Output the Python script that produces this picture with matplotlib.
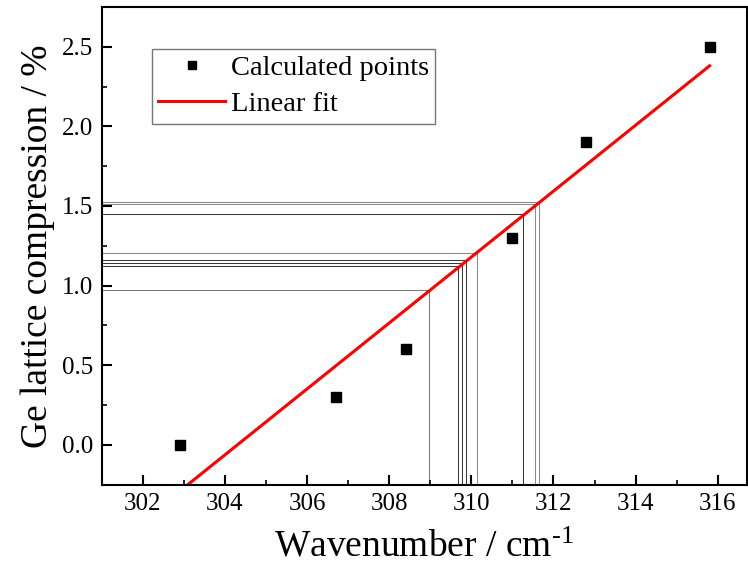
import numpy as np
import matplotlib
matplotlib.use("Agg")
import matplotlib.pyplot as plt

plt.rcParams['font.family'] = 'Liberation Serif'
plt.rcParams['mathtext.fontset'] = 'custom'
plt.rcParams['mathtext.rm'] = 'Liberation Serif'
plt.rcParams['mathtext.default'] = 'regular'

# calculated points
wavenumber = [302.9, 306.7, 308.4, 311.0, 312.8, 315.8]
compression = [0.0, 0.3, 0.6, 1.3, 1.9, 2.5]

# linear fit end points
fit_x = [302.9, 315.8]
fit_y = [-0.29, 2.38]

# guide lines read back from the fit
guide_x = [308.98, 309.68, 309.78, 309.88, 310.13, 311.26, 311.56, 311.65]
guide_y = [0.975, 1.123, 1.140, 1.159, 1.207, 1.448, 1.513, 1.528]
guide_c = ['#7a7a7a', '#3a3a3a', '#3a3a3a', '#3a3a3a', '#8a8a8a', '#3a3a3a', '#8a8a8a', '#8a8a8a']

xmin, xmax = 301.0, 316.7
ymin, ymax = -0.25, 2.75

fig = plt.figure(figsize=(7.48, 5.75), dpi=100)
ax = fig.add_axes([0.136, 0.157, 0.862, 0.831])

for gx, gy, gc in zip(guide_x, guide_y, guide_c):
    ax.plot([xmin, gx, gx], [gy, gy, ymin], color=gc, lw=0.75, zorder=1)

ax.plot(wavenumber, compression, 's', color='k', ms=7.5, label='Calculated points', zorder=3)
ax.plot(fit_x, fit_y, '-', color='red', lw=2.2, label='Linear fit', zorder=2)

ax.set_xlim(xmin, xmax)
ax.set_ylim(ymin, ymax)
ax.set_xticks(np.arange(302, 317, 2))
ax.set_xticks(np.arange(301, 317, 1), minor=True)
ax.set_yticks(np.arange(0, 2.6, 0.5))
ax.set_yticks(np.arange(-0.25, 2.75, 0.25), minor=True)
ax.yaxis.set_major_formatter(matplotlib.ticker.FormatStrFormatter('%.1f'))
ax.tick_params(which='major', direction='in', length=7, width=1.5, labelsize=18, pad=6)
ax.tick_params(which='minor', direction='in', length=3.5, width=1.2)
for sp in ax.spines.values():
    sp.set_linewidth(1.5)

ax.set_xlabel(r'Wavenumber / cm$^{\text{-1}}$', fontsize=27, labelpad=11)
ax.set_ylabel('Ge lattice compression / %', fontsize=27, labelpad=5)

leg = ax.legend(loc='upper left', bbox_to_anchor=(0.078, 0.912), borderaxespad=0,
                fontsize=20.5, frameon=True, fancybox=False, edgecolor='#555555',
                handlelength=2.35, borderpad=0.22, labelspacing=0.36, handletextpad=0.2,
                markerscale=0.75)
leg.get_frame().set_linewidth(1.0)

fig.savefig('out.png', dpi=100)
